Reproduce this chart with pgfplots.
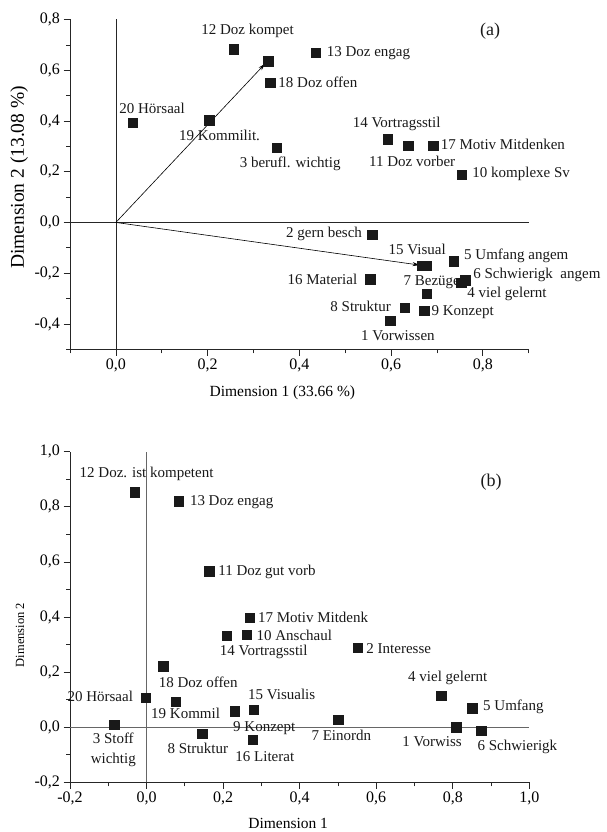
\documentclass[border=0pt]{standalone}
\usepackage{fontspec}
\setmainfont{Liberation Serif}
\usepackage{pgfplots}
\pgfplotsset{compat=1.18}
\usetikzlibrary{arrows.meta}
\pgfplotsset{
  myaxis/.style={
    scale only axis, anchor=south west, clip=false,
    axis lines*=left, axis line style={black!85, line width=0.7pt},
    tick align=outside, major tick length=6.5pt, minor tick length=4pt,
    every tick/.style={black!85, line width=0.7pt},
    /pgf/number format/fixed, /pgf/number format/fixed zerofill,
    /pgf/number format/precision=1, /pgf/number format/use comma,
    /pgf/number format/assume math mode=true,
    ticklabel style={font=\fontsize{16}{18}\selectfont},
    label style={font=\fontsize{15.5}{18}\selectfont},
  },
  pt/.style={only marks, mark=square*, mark size=4.7pt, mark options={fill=black!90, draw=black!90, line width=0.2pt}},
}
\tikzset{lab/.style={font=\fontsize{15}{17}\selectfont, inner sep=0pt, text=black!90}}
\begin{document}
\begin{tikzpicture}
\useasboundingbox (0,0) rectangle (607pt,832pt);
% ---------------- panel (a)
\begin{axis}[myaxis, at={(70pt,482.7pt)}, width=458.7pt, height=329.8pt,
  xmin=-0.1, xmax=0.9, ymin=-0.5, ymax=0.8,
  xtick={0,0.2,0.4,0.6,0.8}, minor xtick={-0.1,0.1,0.3,0.5,0.7,0.9},
  ytick={-0.4,-0.2,0,0.2,0.4,0.6,0.8}, minor ytick={-0.5,-0.3,-0.1,0.1,0.3,0.5,0.7},
  xlabel={Dimension 1 (33.66 \%)}, ylabel={Dimension 2 (13.08 \%)},
  xlabel style={at={(axis description cs:0.463,-0.132)}, anchor=center},
  ylabel style={at={(axis description cs:-0.111,0.521)}, anchor=center, font=\fontsize{19.5}{22}\selectfont},
]
\addplot[black!85, line width=0.7pt] coordinates {(-0.1,0) (0.9,0)};
\addplot[black!85, line width=0.7pt] coordinates {(0,-0.5) (0,0.8)};
\addplot[black, line width=0.6pt, -{Stealth[length=7pt,width=4pt]}] coordinates {(0,0) (0.325,0.625)};
\addplot[black, line width=0.6pt, -{Stealth[length=7pt,width=4pt]}] coordinates {(0,0) (0.662,-0.168)};
\node[lab] at (axis cs:0.287,0.755) {12 Doz kompet};
\node[lab, anchor=west] at (axis cs:0.354,0.551) {18 Doz offen};
\node[lab] at (axis cs:0.079,0.449) {20 Hörsaal};
\node[lab] at (axis cs:0.226,0.344) {19 Kommilit.};
\node[lab] at (axis cs:0.380,0.232) {3 berufl. wichtig};
\node[lab, anchor=west] at (axis cs:0.4595,0.667) {13 Doz engag};
\node[lab, font=\fontsize{18}{20}\selectfont] at (axis cs:0.816,0.752) {(a)};
\node[lab] at (axis cs:0.612,0.390) {14 Vortragsstil};
\node[lab, anchor=west] at (axis cs:0.708,0.308) {17 Motiv Mitdenken};
\node[lab] at (axis cs:0.646,0.241) {11 Doz vorber};
\node[lab, anchor=west] at (axis cs:0.777,0.190) {10 komplexe Sv};
\node[lab, anchor=east] at (axis cs:0.537,-0.045) {2 gern besch};
\node[lab] at (axis cs:0.657,-0.107) {15 Visual};
\node[lab, anchor=west] at (axis cs:0.759,-0.130) {5 Umfang angem};
\node[lab, anchor=west] at (axis cs:0.779,-0.206) {6 Schwierigk\ \ angem};
\node[lab, anchor=west] at (axis cs:0.627,-0.236) {7 Bezüge};
\node[lab, anchor=west] at (axis cs:0.766,-0.282) {4 viel gelernt};
\node[lab, anchor=east] at (axis cs:0.5265,-0.225) {16 Material};
\node[lab, anchor=east] at (axis cs:0.600,-0.331) {8 Struktur};
\node[lab, anchor=west] at (axis cs:0.688,-0.352) {9 Konzept};
\node[lab] at (axis cs:0.615,-0.447) {1 Vorwissen};
\addplot[pt] coordinates {
 (0.257,0.684) (0.332,0.636) (0.336,0.551) (0.036,0.393) (0.203,0.403)
 (0.350,0.294) (0.436,0.669) (0.593,0.328) (0.637,0.304) (0.692,0.304)
 (0.754,0.188) (0.559,-0.049) (0.667,-0.171) (0.678,-0.171) (0.736,-0.153)
 (0.761,-0.227) (0.753,-0.237) (0.678,-0.281) (0.554,-0.224) (0.630,-0.336)
 (0.672,-0.348) (0.598,-0.387)
};
\end{axis}
% ---------------- panel (b)
\begin{axis}[myaxis, at={(70pt,49.7pt)}, width=459.3pt, height=330.6pt,
  xmin=-0.2, xmax=1.0, ymin=-0.2, ymax=1.0,
  xtick={-0.2,0,0.2,0.4,0.6,0.8,1.0}, minor xtick={-0.1,0.1,0.3,0.5,0.7,0.9},
  ytick={-0.2,0,0.2,0.4,0.6,0.8,1.0}, minor ytick={-0.1,0.1,0.3,0.5,0.7,0.9},
  xlabel={Dimension 1}, ylabel={Dimension 2},
  xlabel style={at={(axis description cs:0.475,-0.124)}, anchor=center},
  ylabel style={at={(axis description cs:-0.109,0.4456)}, anchor=center, font=\fontsize{12.5}{15}\selectfont},
]
\addplot[black!60, line width=0.8pt] coordinates {(-0.2,0) (1.0,0)};
\addplot[black!60, line width=0.8pt] coordinates {(0,-0.2) (0,1.0)};
\node[lab] at (axis cs:0.0,0.920) {12 Doz. ist kompetent};
\node[lab, anchor=west] at (axis cs:0.113,0.817) {13 Doz engag};
\node[lab, anchor=west] at (axis cs:0.187,0.563) {11 Doz gut vorb};
\node[lab, anchor=west] at (axis cs:0.291,0.400) {17 Motiv Mitdenk};
\node[lab, anchor=west] at (axis cs:0.287,0.333) {10 Anschaul};
\node[lab, anchor=west] at (axis cs:0.191,0.272) {14 Vortragsstil};
\node[lab] at (axis cs:0.135,0.163) {18 Doz offen};
\node[lab, anchor=east] at (axis cs:-0.035,0.111) {20 Hörsaal};
\node[lab] at (axis cs:0.102,0.049) {19 Kommil};
\node[lab, anchor=west] at (axis cs:0.265,0.119) {15 Visualis};
\node[lab] at (axis cs:0.3075,-0.002) {9 Konzept};
\node[lab, align=center, font=\fontsize{15}{20}\selectfont] at (axis cs:-0.087,-0.082) {3 Stoff\\wichtig};
\node[lab] at (axis cs:0.134,-0.078) {8 Struktur};
\node[lab] at (axis cs:0.309,-0.106) {16 Literat};
\node[lab, anchor=west] at (axis cs:0.574,0.285) {2 Interesse};
\node[lab] at (axis cs:0.787,0.179) {4 viel gelernt};
\node[lab, anchor=west] at (axis cs:0.879,0.073) {5 Umfang};
\node[lab] at (axis cs:0.509,-0.030) {7 Einordn};
\node[lab] at (axis cs:0.746,-0.054) {1 Vorwiss};
\node[lab] at (axis cs:0.969,-0.070) {6 Schwierigk};
\node[lab, font=\fontsize{18}{20}\selectfont] at (axis cs:0.900,0.890) {(b)};
\addplot[pt] coordinates {
 (-0.032,0.854) (0.084,0.820) (0.163,0.566) (0.270,0.397) (0.209,0.333)
 (0.261,0.336) (0.043,0.222) (-0.003,0.107) (0.076,0.094) (-0.085,0.009)
 (0.145,-0.024) (0.230,0.058) (0.280,0.063) (0.277,-0.046) (0.551,0.288)
 (0.770,0.115) (0.851,0.069) (0.500,0.028) (0.809,0.000) (0.874,-0.012)
};
\end{axis}
\end{tikzpicture}
\end{document}
